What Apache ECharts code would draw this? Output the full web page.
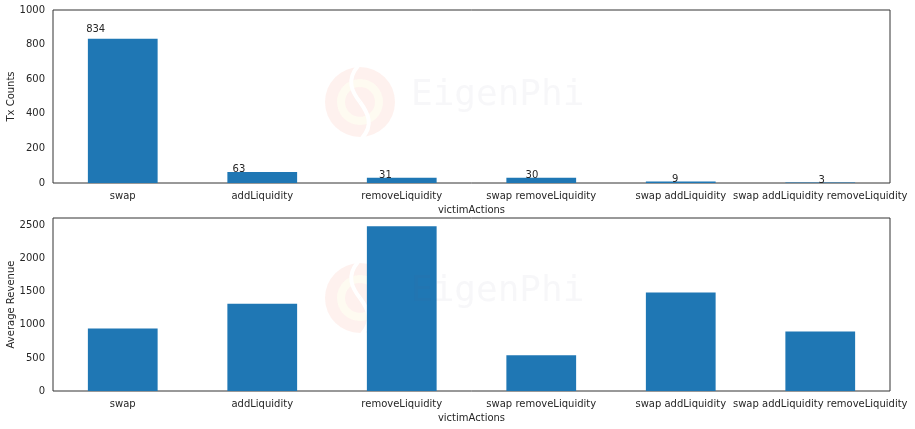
<!DOCTYPE html>
<html>
<head>
<meta charset="utf-8">
<script src="https://cdn.jsdelivr.net/npm/echarts@6/dist/echarts.min.js"></script>
<style>html,body{margin:0;padding:0;background:#fff}#c{width:915px;height:429px}</style>
</head>
<body>
<div id="c"></div>
<script>
const categories = ['swap', 'addLiquidity', 'removeLiquidity', 'swap removeLiquidity', 'swap addLiquidity', 'swap addLiquidity removeLiquidity'];
const txCounts = [834, 63, 31, 30, 9, 3];
const avgRevenue = [946, 1319, 2490, 539, 1489, 901];
const topTicks = { min: 0, max: 1000, interval: 200 };
const bottomTicks = { min: 0, max: 2615, interval: 500 };

const FONT = 'DejaVu Sans';
const TXT = '#262626';
const BAR = '#1f77b4';

function xAxisCfg(gridIndex) {
  return {
    type: 'category', gridIndex, data: categories,
    axisLine: { show: false }, axisTick: { show: false },
    axisLabel: { color: TXT, fontFamily: FONT, fontSize: 10, margin: 8, interval: 0 },
    name: 'victimActions', nameLocation: 'middle', nameGap: 22,
    nameTextStyle: { color: TXT, fontFamily: FONT, fontSize: 10 },
    splitLine: { show: false }
  };
}
function yAxisCfg(gridIndex, t, showMax) {
  return {
    type: 'value', gridIndex, min: t.min, max: t.max, interval: t.interval,
    axisLine: { show: false }, axisTick: { show: false }, splitLine: { show: false },
    axisLabel: { color: TXT, fontFamily: FONT, fontSize: 10, margin: 8, showMaxLabel: showMax, formatter: v => String(v) }
  };
}

function yName(text, cy) {
  return { type: 'text', z: 50, x: 11, y: cy, rotation: Math.PI / 2,
    style: { text, fill: TXT, font: '10px "DejaVu Sans"', align: 'center', verticalAlign: 'middle' } };
}

function watermark(cy, baseY) {
  const cx = 360;
  return [
    { type: 'ring', z: -10, shape: { cx, cy, r: 35, r0: 23 }, style: { fill: 'rgba(241,115,88,0.10)' } },
    { type: 'ring', z: -10, shape: { cx, cy, r: 23, r0: 15 }, style: { fill: 'rgba(250,215,120,0.10)' } },
    { type: 'circle', z: -10, shape: { cx, cy, r: 15 }, style: { fill: 'rgba(241,115,88,0.10)' } },
    { type: 'bezierCurve', z: -9, shape: { x1: cx - 2, y1: cy - 36, cpx1: cx - 14, cpy1: cy - 22, cpx2: cx - 8, cpy2: cy - 10, x2: cx, y2: cy },
      style: { fill: null, stroke: '#fff', lineWidth: 4 } },
    { type: 'bezierCurve', z: -9, shape: { x1: cx, y1: cy, cpx1: cx + 8, cpy1: cy + 11, cpx2: cx + 14, cpy2: cy + 23, x2: cx + 2, y2: cy + 36 },
      style: { fill: null, stroke: '#fff', lineWidth: 4 } },
    { type: 'text', z: 100, x: 411, y: baseY, style: { text: 'EigenPhi', font: '36px "DejaVu Sans Mono"', fill: 'rgba(105,105,142,0.05)', verticalAlign: 'bottom' } }
  ];
}

const chart = echarts.init(document.getElementById('c'), null, { renderer: 'canvas' });
chart.setOption({
  animation: false,
  backgroundColor: '#fff',
  grid: [
    { left: 53, right: 25, top: 10, height: 173, containLabel: false, outerBoundsMode: 'none', show: true, borderColor: '#333', borderWidth: 1, backgroundColor: 'transparent' },
    { left: 53, right: 25, top: 218, height: 173, containLabel: false, outerBoundsMode: 'none', show: true, borderColor: '#333', borderWidth: 1, backgroundColor: 'transparent' }
  ],
  xAxis: [xAxisCfg(0), xAxisCfg(1)],
  yAxis: [yAxisCfg(0, topTicks, true), yAxisCfg(1, bottomTicks, false)],
  series: [
    { type: 'bar', xAxisIndex: 0, yAxisIndex: 0, data: txCounts, barWidth: '50%', itemStyle: { color: BAR } },
    { type: 'bar', xAxisIndex: 1, yAxisIndex: 1, data: avgRevenue, barWidth: '50%', itemStyle: { color: BAR } },
    {
      type: 'custom', xAxisIndex: 0, yAxisIndex: 0,
      data: txCounts.map((v, i) => [i, v]),
      encode: { x: 0, y: 1 },
      renderItem: function (params, api) {
        const i = api.value(0), v = api.value(1);
        const band = api.size([1, 0])[0];
        const c = api.coord([i, v * 1.05]);
        const left = (i - 0.25) * 1.05;
        const px = c[0] + (left - i) * band;
        return { type: 'text', x: px, y: c[1] + 3, style: { text: String(v), fill: TXT, font: '10px "DejaVu Sans"', align: 'left', verticalAlign: 'bottom' } };
      },
      z: 10
    }
  ],
  graphic: watermark(102, 114).concat(watermark(298, 310)).concat([yName('Tx Counts', 96.5), yName('Average Revenue', 304.5)])
});
</script>
</body>
</html>
